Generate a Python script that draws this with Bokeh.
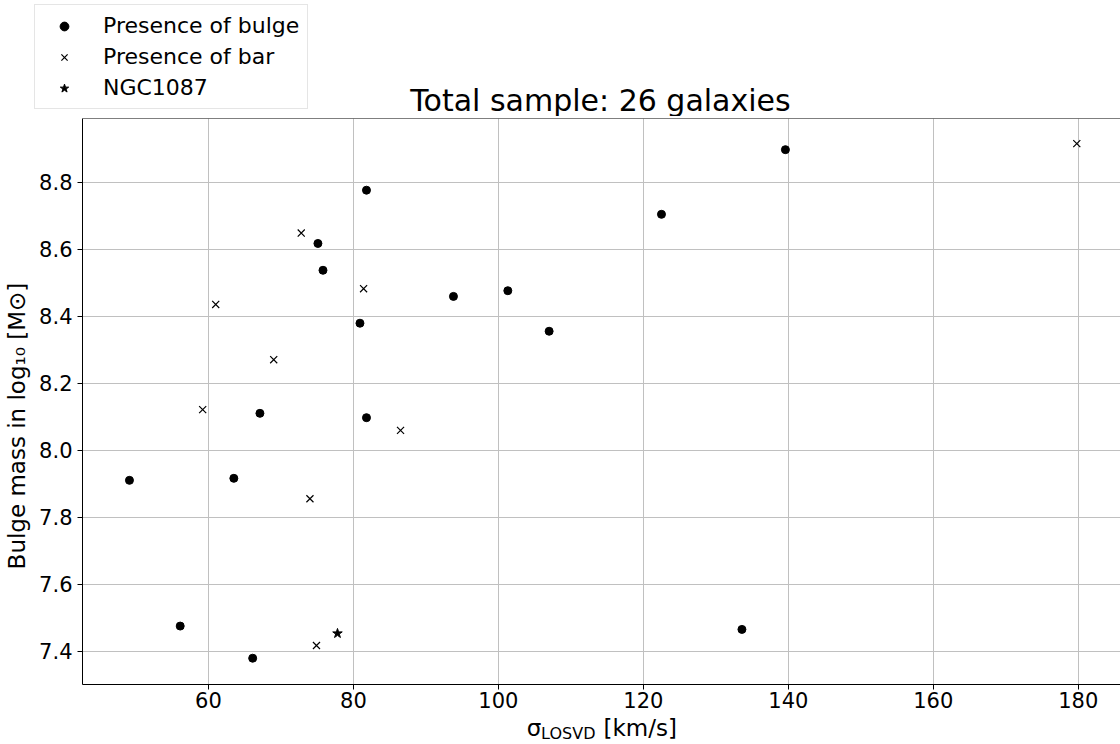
from bokeh.plotting import figure
from bokeh.layouts import column, row
from bokeh.models import (Range1d, FixedTicker, NumeralTickFormatter, Legend,
                          LegendItem, Label, Span)
from bokeh.embed import file_html
from bokeh.resources import INLINE
import math

# ---- data ----
bulge_sigma = [49.1, 56.1, 63.5, 66.1, 67.1, 75.1, 75.8, 80.9, 81.8, 81.8,
               93.8, 101.3, 107.0, 122.5, 133.6, 139.6]
bulge_mass = [7.910, 7.475, 7.916, 7.379, 8.110, 8.617, 8.537, 8.379, 8.776,
              8.097, 8.459, 8.476, 8.355, 8.704, 7.465, 8.897]
bar_sigma = [59.2, 61.0, 69.0, 72.8, 74.0, 74.9, 81.4, 86.5, 179.8]
bar_mass = [8.121, 8.435, 8.270, 8.648, 7.855, 7.417, 8.482, 8.059, 8.915]
ngc_sigma = [77.8]
ngc_mass = [7.453]

x_ticks = [60, 80, 100, 120, 140, 160, 180]
y_ticks = [7.4, 7.6, 7.8, 8.0, 8.2, 8.4, 8.6, 8.8]
title_text = "Total sample: 26 galaxies"
legend_labels = ["Presence of bulge", "Presence of bar", "NGC1087"]
ylabel_text = "Bulge mass in log₁₀ [M⊙]"

FONT = "DejaVu Sans"
W, H = 1120, 744
HEAD_H = 116          # header (legend + title)
YLAB_W = 36           # y-label strip
XLAB_H = 28           # x-label strip
MAIN_H = H - HEAD_H - XLAB_H

BULGE = dict(marker="circle", size=8, fill_color="black", line_color="black")
BAR = dict(marker="x", size=10, line_color="black", line_width=1.2)
NGC = dict(marker="star", size=10, fill_color="black", line_color="black")


def blank(width, height):
    f = figure(width=width, height=height, output_backend="svg",
               toolbar_location=None, x_axis_type=None, y_axis_type=None,
               x_range=Range1d(0, width), y_range=Range1d(0, height),
               min_border=0)
    f.grid.visible = False
    f.outline_line_color = None
    f.background_fill_color = "white"
    f.border_fill_color = "white"
    return f


# ---------------- main plot ----------------
p = figure(width=W - YLAB_W, height=MAIN_H, output_backend="svg",
           toolbar_location=None,
           x_range=Range1d(42.62, 185.83), y_range=Range1d(7.3006, 8.990),
           min_border_left=82 - YLAB_W, min_border_right=0, min_border_top=2,
           min_border_bottom=MAIN_H - 2 - 566)
p.outline_line_color = None
p.background_fill_color = "white"
p.border_fill_color = "white"

for ax in (p.xaxis[0], p.yaxis[0]):
    ax.axis_line_color = "black"
    ax.axis_line_width = 1
    ax.major_tick_line_color = "black"
    ax.major_tick_out = 5
    ax.major_tick_in = 0
    ax.minor_tick_line_color = None
    ax.major_label_text_font = FONT
    ax.major_label_text_font_size = "21px"
    ax.major_label_text_color = "black"
p.yaxis.major_label_standoff = 5
p.xaxis.major_label_standoff = 2
p.xaxis.ticker = FixedTicker(ticks=x_ticks)
p.yaxis.ticker = FixedTicker(ticks=y_ticks)
p.yaxis.formatter = NumeralTickFormatter(format="0.0")

p.grid.grid_line_color = "#c0c0c0"
p.grid.grid_line_width = 1

# top border of the frame
p.add_layout(Span(location=p.y_range.end, dimension="width",
                  line_color="black", line_width=1))

p.scatter(bulge_sigma, bulge_mass, **BULGE)
p.scatter(bar_sigma, bar_mass, **BAR)
p.scatter(ngc_sigma, ngc_mass, **NGC)

# ---------------- header: legend + title ----------------
head = blank(W, HEAD_H)
# hidden copies of the series, only used to draw the legend symbols
lr_bulge = head.scatter(bulge_sigma, bulge_mass, visible=False, **BULGE)
lr_bar = head.scatter(bar_sigma, bar_mass, visible=False, **BAR)
lr_ngc = head.scatter(ngc_sigma, ngc_mass, visible=False, **NGC)
legend = Legend(items=[LegendItem(label=legend_labels[0], renderers=[lr_bulge]),
                       LegendItem(label=legend_labels[1], renderers=[lr_bar]),
                       LegendItem(label=legend_labels[2], renderers=[lr_ngc])],
                location=(34, 7))
legend.label_text_font = FONT
legend.label_text_font_size = "22px"
legend.label_text_color = "black"
legend.glyph_width = 42
legend.glyph_height = 22
legend.label_height = 22
legend.label_standoff = 18
legend.spacing = 6
legend.padding = 8
legend.margin = 0
legend.border_line_color = "#cccccc"
legend.border_line_width = 1
legend.background_fill_color = "white"
legend.background_fill_alpha = 0.8
legend.click_policy = "none"
head.add_layout(legend, "center")

head.add_layout(Label(x=600, y=16.5, text=title_text, text_align="center",
                      text_baseline="alphabetic", text_font=FONT,
                      text_font_size="30px", text_color="black"))

# ---------------- y label strip ----------------
ylab = blank(YLAB_W, MAIN_H)
ylab.add_layout(Label(x=16, y=MAIN_H - 326, angle=math.pi / 2, text=ylabel_text,
                      text_align="center", text_baseline="alphabetic",
                      text_font=FONT, text_font_size="23px", text_color="black"))

# ---------------- x label strip ----------------
xlab = blank(W, XLAB_H)
xkw = dict(text_font=FONT, text_color="black", text_baseline="alphabetic")
xlab.add_layout(Label(x=526.3, y=17, text="σ", text_font_size="23px", **xkw))
xlab.add_layout(Label(x=540.6, y=11, text="LOSVD", text_font_size="16px", **xkw))
xlab.add_layout(Label(x=603.0, y=17, text="[km/s]", text_font_size="23px", **xkw))

layout = column(head, row(ylab, p, spacing=0), xlab, spacing=0)

open("out.html", "w").write(file_html(layout, INLINE))
